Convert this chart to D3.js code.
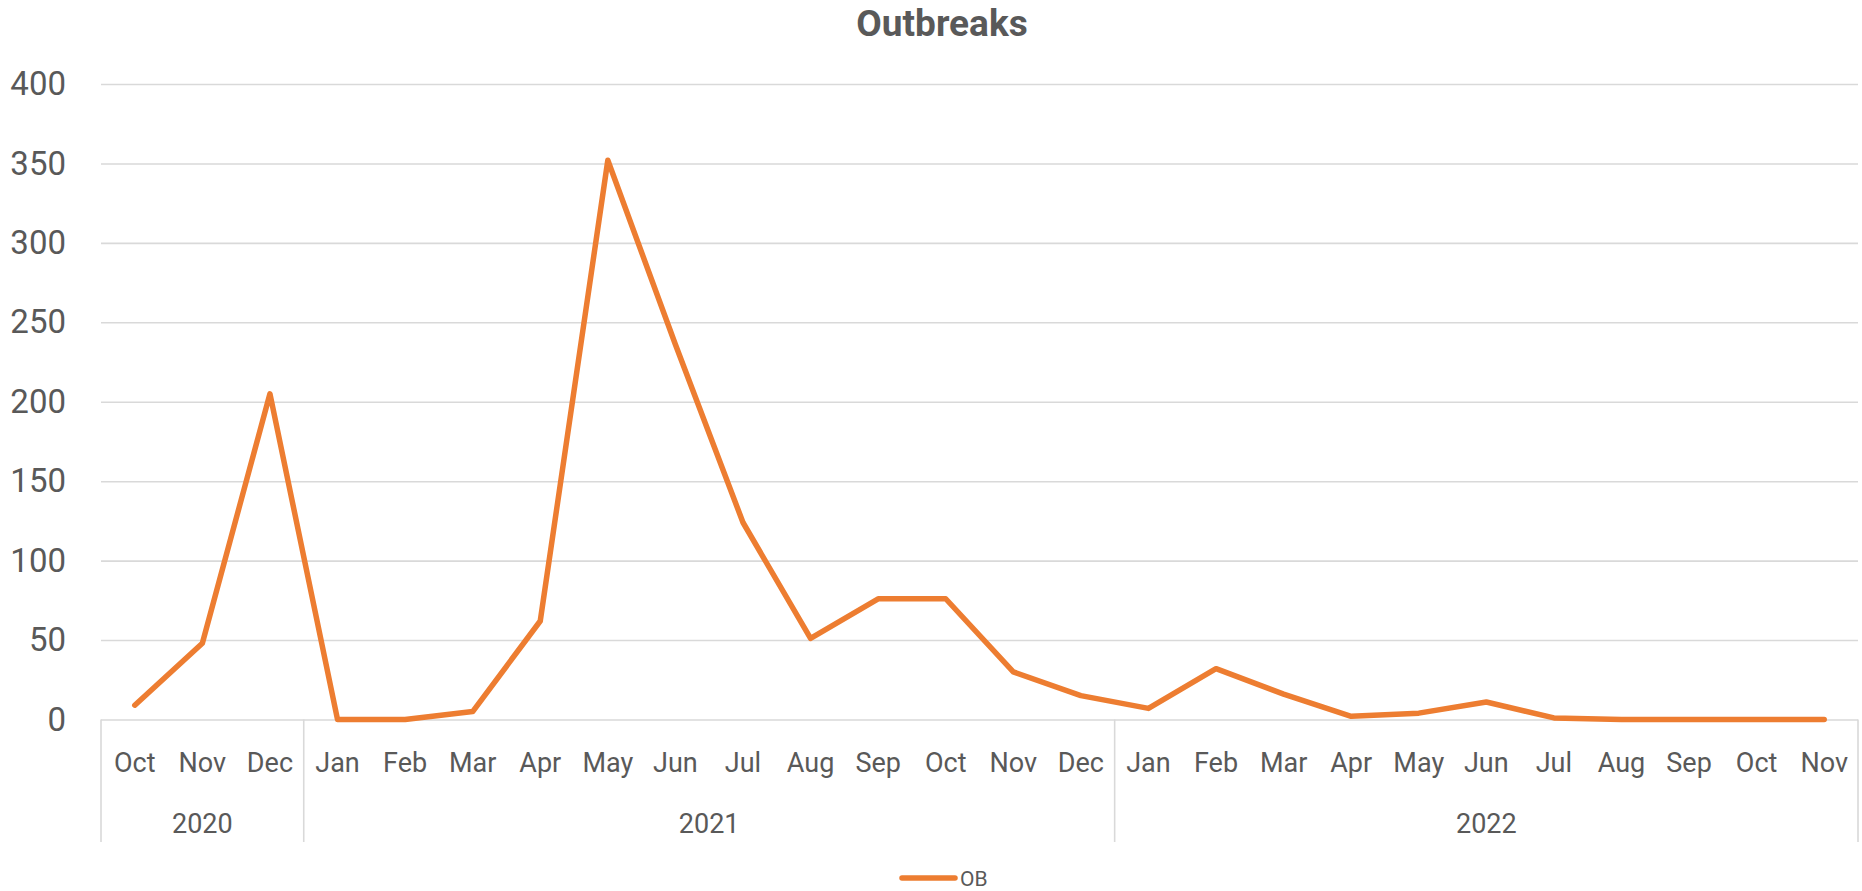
<!DOCTYPE html>
<html>
<head>
<meta charset="utf-8">
<script src="https://cdn.jsdelivr.net/npm/d3@7"></script>
<style>
  body { margin: 0; background: #ffffff; }
  svg { display: block; }
  text { font-family: Roboto, "Open Sans", sans-serif; fill: #595959; }
</style>
</head>
<body>
<script>
"use strict";

// chart data
const months = ["Oct", "Nov", "Dec",
    "Jan", "Feb", "Mar", "Apr", "May", "Jun", "Jul", "Aug", "Sep", "Oct", "Nov", "Dec",
    "Jan", "Feb", "Mar", "Apr", "May", "Jun", "Jul", "Aug", "Sep", "Oct", "Nov"];
const years = ["2020", "2021", "2022"];
const monthsPerYear = [3, 12, 11];
const obValues = [9, 48, 205,
    0, 0, 5, 62, 352, 236, 124, 51, 76, 76, 30, 15,
    7, 32, 16, 2, 4, 11, 1, 0, 0, 0, 0];
const yTicks = [0, 50, 100, 150, 200, 250, 300, 350, 400];
const seriesName = "OB";

const width = 1862, height = 891;
const plotLeft = 101, plotRight = 1858, plotTop = 84, plotBottom = 719.5;
const orange = "#ED7D31", grid = "#d9d9d9";

var svg = d3.select("body").append("svg")
    .attr("width", width)
    .attr("height", height);

const x = d3.scaleBand()
    .domain(d3.range(months.length))
    .range([plotLeft, plotRight])
    .paddingInner(0)
    .paddingOuter(0);
const y = d3.scaleLinear()
    .domain([0, 400])
    .range([plotBottom, plotTop]);

// title
svg.append("text")
    .attr("x", 942)
    .attr("y", 36)
    .attr("text-anchor", "middle")
    .attr("font-size", 37)
    .attr("font-weight", "bold")
    .text("Outbreaks");

// gridlines
svg.append("g")
    .attr("transform", "translate(" + plotLeft + ",0)")
    .call(d3.axisLeft(y).tickValues(yTicks).tickSize(-(plotRight - plotLeft)).tickFormat(""))
    .call(g => g.select(".domain").remove())
    .call(g => g.selectAll("line").attr("stroke", grid).attr("stroke-width", 1.6));

// y labels
svg.append("g")
    .attr("transform", "translate(" + 66 + ",0)")
    .call(d3.axisLeft(y).tickValues(yTicks).tickSize(0).tickPadding(0))
    .call(g => g.select(".domain").remove())
    .call(g => g.selectAll("text")
        .attr("font-size", 33)
        .attr("fill", "#595959")
        .attr("font-family", "Roboto, 'Open Sans', sans-serif"));

// month labels
svg.append("g")
    .selectAll("text")
    .data(months)
    .enter()
    .append("text")
    .attr("x", (d, i) => x(i) + x.bandwidth() / 2)
    .attr("y", 772)
    .attr("text-anchor", "middle")
    .attr("font-size", 27)
    .text(d => d);

// year groups and separators
var starts = [0];
for (let i = 0; i < monthsPerYear.length; i++) {
    starts.push(starts[i] + monthsPerYear[i]);
}
var edgeX = starts.map(s => s < months.length ? x(s) : plotRight);

svg.append("g")
    .selectAll("line")
    .data(edgeX)
    .enter()
    .append("line")
    .attr("x1", d => d)
    .attr("x2", d => d)
    .attr("y1", plotBottom)
    .attr("y2", 842)
    .attr("stroke", grid)
    .attr("stroke-width", 1.6);

svg.append("g")
    .selectAll("text")
    .data(years)
    .enter()
    .append("text")
    .attr("x", (d, i) => (edgeX[i] + edgeX[i + 1]) / 2)
    .attr("y", 833)
    .attr("text-anchor", "middle")
    .attr("font-size", 27)
    .text(d => d);

// the OB line
var line = d3.line()
    .x((d, i) => x(i) + x.bandwidth() / 2)
    .y(d => y(d));

svg.append("path")
    .datum(obValues)
    .attr("d", line)
    .attr("fill", "none")
    .attr("stroke", orange)
    .attr("stroke-width", 5.5)
    .attr("stroke-linejoin", "round")
    .attr("stroke-linecap", "round");

// legend
var legend = svg.append("g").attr("transform", "translate(902,878)");
legend.append("line")
    .attr("x1", 0)
    .attr("x2", 53)
    .attr("stroke", orange)
    .attr("stroke-width", 5.5)
    .attr("stroke-linecap", "round");
legend.append("text")
    .attr("x", 58)
    .attr("y", 7.5)
    .attr("font-size", 21)
    .text(seriesName);
</script>
</body>
</html>
